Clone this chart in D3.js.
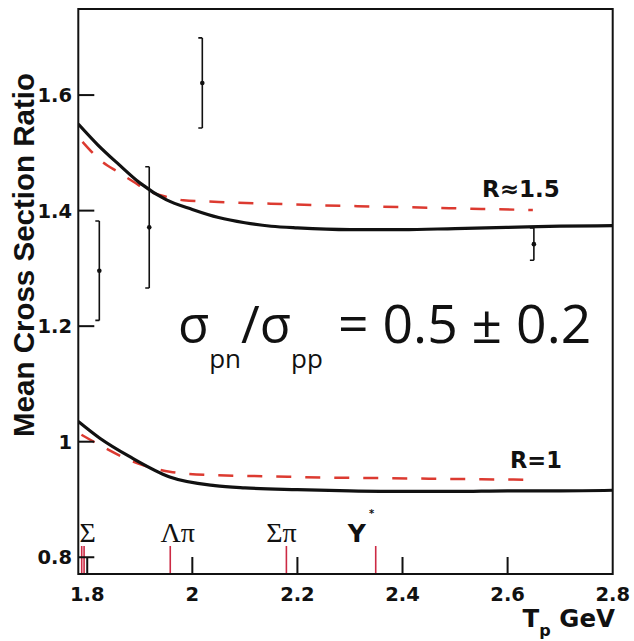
<!DOCTYPE html>
<html lang="en">
<head>
<meta charset="UTF-8">
<title>Mean Cross Section Ratio</title>
<script src="https://d3js.org/d3.v7.min.js"></script>
<style>
    html, body { margin: 0; padding: 0; background: #fff; }
    svg { display: block; }
    .lbl { font-family: "DejaVu Sans", sans-serif; font-weight: bold; fill: #111; }
</style>
</head>
<body>
<svg id="chart" width="634" height="641"></svg>
<script>
// axis ranges and ticks
const xDomain = [1.783, 2.8];
const yDomain = [0.771, 1.749];
const xTicks = [1.8, 2.0, 2.2, 2.4, 2.6, 2.8];
const yTicks = [0.8, 1.0, 1.2, 1.4, 1.6];

// simulation curve, R ~ 1.5
const upperT  = [1.783, 1.82, 1.86, 1.90, 1.95, 2.00, 2.05, 2.10, 2.15, 2.20, 2.30, 2.40, 2.50, 2.60, 2.70, 2.80];
const upperMC = [1.550, 1.514, 1.480, 1.448, 1.419, 1.402, 1.388, 1.379, 1.373, 1.370, 1.367, 1.367, 1.369, 1.371, 1.373, 1.374];
// dashed curve, R ~ 1.5
const upperDashT = [1.791, 1.824, 1.86, 1.888, 1.919, 1.95, 1.983, 2.05, 2.15, 2.25, 2.35, 2.45, 2.55, 2.648];
const upperDash  = [1.519, 1.488, 1.466, 1.450, 1.433, 1.424, 1.418, 1.415, 1.412, 1.409, 1.407, 1.405, 1.403, 1.401];

// simulation curve, R = 1
const lowerT  = [1.783, 1.824, 1.881, 1.957, 2.043, 2.10, 2.20, 2.30, 2.40, 2.50, 2.60, 2.70, 2.80];
const lowerMC = [1.035, 1.006, 0.974, 0.939, 0.924, 0.920, 0.917, 0.915, 0.914, 0.914, 0.915, 0.915, 0.916];
// dashed curve, R = 1
const lowerDashT = [1.789, 1.824, 1.881, 1.957, 2.043, 2.15, 2.25, 2.35, 2.45, 2.55, 2.648];
const lowerDash  = [1.012, 0.994, 0.968, 0.948, 0.942, 0.940, 0.938, 0.937, 0.936, 0.935, 0.934];

// measured points
const pointT   = [1.823, 1.918, 2.019, 2.650];
const pointV   = [1.296, 1.371, 1.621, 1.342];
const pointErr = [0.086, 0.105, 0.078, 0.028];

// thresholds
const thresholdT = [1.7895, 1.794, 1.958, 2.179, 2.349];
const thresholdNames = ["Σ", "Λπ", "Σπ", "Y"];
const thresholdNameT = [1.7895, 1.958, 2.179, 2.349];

const width = 634, height = 641;
const margin = {top: 9, right: 21.3, bottom: 67, left: 78.3};
const svg = d3.select("#chart");

const x = d3.scaleLinear().domain(xDomain).range([margin.left, width - margin.right]);
const y = d3.scaleLinear().domain(yDomain).range([height - margin.bottom, margin.top]);

const plotW = width - margin.left - margin.right;
const plotH = height - margin.top - margin.bottom;
const x0 = margin.left, yb = height - margin.bottom;
const fmt = d => String(+d.toFixed(1));

svg.append("defs").append("clipPath").attr("id", "clip")
    .append("rect")
    .attr("x", margin.left).attr("y", margin.top)
    .attr("width", plotW).attr("height", plotH);

// tick labels
svg.append("g").selectAll("text")
    .data(xTicks)
    .enter().append("text")
    .attr("class", "lbl")
    .attr("x", d => x(d))
    .attr("y", 601)
    .attr("text-anchor", "middle")
    .style("font-size", "19.5px")
    .text(fmt);

svg.append("g").selectAll("text")
    .data(yTicks)
    .enter().append("text")
    .attr("class", "lbl")
    .attr("x", 72)
    .attr("y", d => y(d) + 7)
    .attr("text-anchor", "end")
    .style("font-size", "19.5px")
    .text(fmt);

// threshold markers
svg.append("g").selectAll("line")
    .data(thresholdT)
    .enter().append("line")
    .attr("x1", d => x(d)).attr("x2", d => x(d))
    .attr("y1", yb - 28)
    .attr("y2", yb)
    .attr("stroke", "#cc2a44")
    .attr("stroke-width", 1.6);

const nameDx = [6, 7.5, -5, -19];
const thr = svg.append("g");
thresholdNames.forEach((name, i) => {
    const t = thr.append("text")
        .attr("x", x(thresholdNameT[i]) + nameDx[i])
        .attr("y", 541.7)
        .attr("text-anchor", "middle")
        .style("fill", "#111");
    if (name === "Y") {
        t.attr("class", "lbl").style("font-size", "25px").text(name);
    } else {
        t.style("font-family", "Liberation Serif, serif")
         .style("font-size", "28px")
         .text(name);
    }
});
thr.append("text")
    .attr("class", "lbl")
    .attr("x", x(thresholdNameT[3]) - 4)
    .attr("y", 517)
    .attr("text-anchor", "middle")
    .style("font-size", "10px")
    .text("*");

const plot = svg.append("g").attr("clip-path", "url(#clip)");

const line = d3.line()
    .x(d => x(d[0]))
    .y(d => y(d[1]))
    .curve(d3.curveMonotoneX);

function drawDashed(ts, vs) {
    plot.append("path")
        .datum(ts.map((t, i) => [t, vs[i]]))
        .attr("d", line)
        .attr("fill", "none")
        .attr("stroke", "#dc3a30")
        .attr("stroke-width", 2.5)
        .attr("stroke-dasharray", "15,14");
}

function drawSim(ts, vs) {
    plot.append("path")
        .datum(ts.map((t, i) => [t, vs[i]]))
        .attr("d", line)
        .attr("fill", "none")
        .attr("stroke", "#111")
        .attr("stroke-width", 3.2);
}

drawDashed(upperDashT, upperDash);
drawDashed(lowerDashT, lowerDash);
drawSim(upperT, upperMC);
drawSim(lowerT, lowerMC);

// error bars
const pts = pointT.map((t, i) => ({t: t, v: pointV[i], e: pointErr[i]}));
const eb = plot.append("g").selectAll("g")
    .data(pts)
    .enter().append("g");
eb.append("line")
    .attr("x1", d => x(d.t)).attr("x2", d => x(d.t))
    .attr("y1", d => y(d.v + d.e)).attr("y2", d => y(d.v - d.e))
    .attr("stroke", "#111").attr("stroke-width", 1.6);
eb.append("line")
    .attr("x1", d => x(d.t) - 4).attr("x2", d => x(d.t))
    .attr("y1", d => y(d.v + d.e)).attr("y2", d => y(d.v + d.e))
    .attr("stroke", "#111").attr("stroke-width", 1.6);
eb.append("line")
    .attr("x1", d => x(d.t) - 4).attr("x2", d => x(d.t))
    .attr("y1", d => y(d.v - d.e)).attr("y2", d => y(d.v - d.e))
    .attr("stroke", "#111").attr("stroke-width", 1.6);
eb.append("circle")
    .attr("cx", d => x(d.t)).attr("cy", d => y(d.v))
    .attr("r", 2.3)
    .attr("fill", "#111");

// frame
svg.append("rect")
    .attr("x", margin.left).attr("y", margin.top)
    .attr("width", plotW).attr("height", plotH)
    .attr("fill", "none")
    .attr("stroke", "#111")
    .attr("stroke-width", 2);

// inner ticks
svg.append("g").selectAll("rect")
    .data(xTicks.slice(0, -1))
    .enter().append("rect")
    .attr("x", d => x(d) - 1)
    .attr("y", yb - 17)
    .attr("width", 2)
    .attr("height", 17)
    .attr("fill", "#111");
svg.append("g").selectAll("rect")
    .data(yTicks)
    .enter().append("rect")
    .attr("x", x0)
    .attr("y", d => y(d) - 1)
    .attr("width", 16)
    .attr("height", 2)
    .attr("fill", "#111");

// curve labels
svg.append("text")
    .attr("class", "lbl")
    .attr("x", 482).attr("y", 197.3)
    .style("font-size", "23px")
    .text("R≈1.5");
svg.append("text")
    .attr("class", "lbl")
    .attr("x", 510).attr("y", 468)
    .style("font-size", "22.5px")
    .text("R=1");

// annotation
const ann = svg.append("text")
    .attr("x", 178).attr("y", 343)
    .style("font-family", "Open Sans, sans-serif")
    .style("font-size", "51px")
    .style("fill", "#111");
ann.append("tspan").text("σ");
ann.append("tspan").attr("dy", 25).style("font-size", "26px").text("pn");
ann.append("tspan").attr("dy", -25).text("/σ");
ann.append("tspan").attr("dy", 25).style("font-size", "26px").text("pp");
ann.append("tspan").attr("dy", -25).attr("x", 338)
    .style("font-size", "53.5px").text("= 0.5 ± 0.2");

// axis titles
const xt = svg.append("text")
    .attr("class", "lbl")
    .attr("x", 615).attr("y", 627)
    .attr("text-anchor", "end")
    .style("font-size", "24.5px");
xt.append("tspan").text("T");
xt.append("tspan").attr("dy", 9).style("font-size", "16px").text("p");
xt.append("tspan").attr("dy", -9).text(" GeV");

svg.append("text")
    .attr("transform", "translate(34,255) rotate(-90)")
    .attr("text-anchor", "middle")
    .style("font-family", "Liberation Sans, Arial, sans-serif")
    .style("font-weight", "bold")
    .style("font-size", "29.5px")
    .style("fill", "#111")
    .text("Mean Cross Section Ratio");
</script>
</body>
</html>
